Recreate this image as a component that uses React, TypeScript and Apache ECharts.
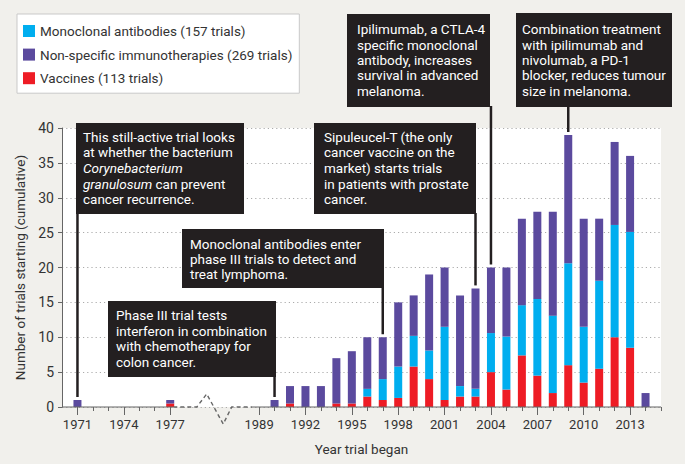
import React, { useEffect, useRef } from "react";
import * as echarts from "echarts";

// ---- data ----
const years = [1971, 1977, 1990, 1991, 1992, 1993, 1994, 1995, 1996, 1997, 1998, 1999, 2000, 2001, 2002, 2003, 2004, 2005, 2006, 2007, 2008, 2009, 2010, 2011, 2012, 2013, 2014];
const vaccines = [null, 0.5, null, 0.5, null, null, 0.5, 0.5, 1.5, 1, 1.3, 5.8, 4, 1, 1.5, 1.5, 5, 2.5, 7.4, 4.5, 2, 6, 3.5, 5.5, 10, 8.5, null];
const monoclonal = [null, null, null, null, null, null, null, null, 1.1, 3, 4.5, 4.4, 4.1, 10.5, 1.5, 1.1, 5.6, 7.6, 7.2, 11, 11.1, 14.6, 8, 12.6, 16.1, 16.6, null];
const nonSpecific = [1, 0.5, 1, 2.5, 3, 3, 6.5, 7.5, 7.4, 6, 9.2, 5.8, 10.9, 8.5, 13, 14.4, 9.4, 9.9, 12.4, 12.5, 14.9, 18.4, 15.5, 8.9, 11.9, 10.9, 2];

const tickYears = [1971, 1972, 1973, 1974, 1975, 1976, 1977, 1989, 1990, 1991, 1992, 1993, 1994, 1995, 1996, 1997, 1998, 1999, 2000, 2001, 2002, 2003, 2004, 2005, 2006, 2007, 2008, 2009, 2010, 2011, 2012, 2013, 2014, 2015];
const labelYears = [1971, 1974, 1977, 1989, 1992, 1995, 1998, 2001, 2004, 2007, 2010, 2013];

const seriesNames = [
  "Monoclonal antibodies (157 trials)",
  "Non-specific immunotherapies (269 trials)",
  "Vaccines (113 trials)",
];

const yTicks = { min: 0, max: 40, interval: 5 };

const notes = [
  { year: 1971, text: "This still-active trial looks\nat whether the bacterium\n{i|Corynebacterium}\n{i|granulosum} can prevent\ncancer recurrence." },
  { year: 1997, text: "Monoclonal antibodies enter\nphase III trials to detect and\ntreat lymphoma." },
  { year: 1990, text: "Phase III trial tests\ninterferon in combination\nwith chemotherapy for\ncolon cancer." },
  { year: 2003, text: "Sipuleucel-T (the only\ncancer vaccine on the\nmarket) starts trials\nin patients with prostate\ncancer." },
  { year: 2004, text: "Ipilimumab, a CTLA-4\nspecific monoclonal\nantibody, increases\nsurvival in advanced\nmelanoma." },
  { year: 2009, text: "Combination treatment\nwith ipilimumab and\nnivolumab, a PD-1\nblocker, reduces tumour\nsize in melanoma." },
];

// ---- layout / style ----
const noteBoxes = [
  { x: 76, y: 123, w: 168, h: 91, tx: 83, ty: 129, lh: 15.6 },
  { x: 182, y: 229, w: 202, h: 59, tx: 190, ty: 236, lh: 15 },
  { x: 108, y: 301, w: 168, h: 76, tx: 116, ty: 307, lh: 15.7 },
  { x: 314, y: 123, w: 162, h: 91, tx: 324, ty: 129, lh: 15.6 },
  { x: 347, y: 14, w: 143, h: 93, tx: 357, ty: 21.5, lh: 15.4 },
  { x: 516, y: 13, w: 156, h: 94, tx: 522, ty: 21.5, lh: 15.4 },
];

const FONT = 'Roboto, "Liberation Sans", Arial, sans-serif';
const DARK = "#231f20";
const TEXT = "#333333";
const AXIS = "#666666";
const BG = "#f1f0ec";
const COLORS = { mono: "#00aeef", non: "#5b4a9e", vac: "#ee1c25" };

// broken axis: 1970-1977, then a compressed gap, then 1989-2015
const BREAK_WIDTH = 5.75;
const pos = (y: number) => (y <= 1977 ? y - 1970 : 7 + BREAK_WIDTH + (y - 1989));
const yearOf = (p: number) => Math.round(p <= 7.01 ? 1970 + p : 1989 + (p - 7 - BREAK_WIDTH));

export default function App() {
  const ref = useRef<HTMLDivElement>(null);

  useEffect(() => {
    const chart = echarts.init(ref.current!, null, { renderer: "svg", width: 685, height: 464 });
    // value first, axis position second (so the value column is the stacked one)
    const toData = (arr: (number | null)[]) => years.map((y, i) => [arr[i], pos(y)]);
    const xMax = pos(2015);
    const barBase = { type: "bar", stack: "total", barWidth: 8, encode: { x: 1, y: 0 } };

    chart.setOption({
      animation: false,
      backgroundColor: BG,
      textStyle: { fontFamily: FONT },
      grid: { left: 62, right: 24, top: 128, bottom: 57, show: true, backgroundColor: "#ffffff", borderWidth: 0 },
      legend: {
        data: seriesNames,
        orient: "vertical",
        left: 17,
        top: 14,
        icon: "rect",
        itemWidth: 12,
        itemHeight: 12,
        itemGap: 9.6,
        padding: [10, 7, 8, 6],
        backgroundColor: "#ffffff",
        borderColor: "#c9c9c9",
        borderWidth: 1,
        selectedMode: false,
        textStyle: { fontFamily: FONT, fontSize: 13.5, color: TEXT, lineHeight: 12 },
      },
      xAxis: [
        {
          type: "value",
          min: 0,
          max: xMax,
          name: "Year trial began",
          nameLocation: "middle",
          nameGap: 35,
          nameTextStyle: { fontFamily: FONT, fontSize: 13.5, color: TEXT },
          axisLine: { show: false },
          splitLine: { show: false },
          axisTick: { show: true, length: 4, customValues: tickYears.map(pos), lineStyle: { color: AXIS } },
          axisLabel: {
            customValues: labelYears.map(pos),
            formatter: (v: number) => String(yearOf(v)),
            margin: 11,
            fontFamily: FONT,
            fontSize: 13,
            color: TEXT,
          },
        },
        {
          type: "value",
          min: 0,
          max: xMax,
          position: "bottom",
          axisLine: { show: false },
          splitLine: { show: false },
          axisLabel: { show: false },
          axisTick: { show: true, length: 8, customValues: labelYears.map(pos), lineStyle: { color: AXIS } },
        },
      ],
      yAxis: {
        type: "value",
        min: yTicks.min,
        max: yTicks.max,
        interval: yTicks.interval,
        name: "Number of trials starting (cumulative)",
        nameLocation: "middle",
        nameGap: 30,
        nameTextStyle: { fontFamily: FONT, fontSize: 13.5, color: TEXT },
        axisLine: { show: true, lineStyle: { color: AXIS, width: 1 } },
        axisTick: { show: true, length: 4, lineStyle: { color: AXIS } },
        axisLabel: { margin: 8, fontFamily: FONT, fontSize: 14, color: TEXT },
        splitLine: { show: true, lineStyle: { color: "#ababab", type: [1.2, 3], width: 1 } },
      },
      series: [
        { ...barBase, name: seriesNames[2], data: toData(vaccines), itemStyle: { color: COLORS.vac } },
        { ...barBase, name: seriesNames[0], data: toData(monoclonal), itemStyle: { color: COLORS.mono } },
        { ...barBase, name: seriesNames[1], data: toData(nonSpecific), itemStyle: { color: COLORS.non } },
      ],
    });

    const px = (p: number) => chart.convertToPixel({ xAxisIndex: 0 }, p) as number;
    const py = (v: number) => chart.convertToPixel({ yAxisIndex: 0 }, v) as number;
    const total = (year: number) => {
      const i = years.indexOf(year);
      return (vaccines[i] || 0) + (monoclonal[i] || 0) + (nonSpecific[i] || 0);
    };
    const y0 = py(0);
    const gx = (off: number) => px(7 + off);

    const axisEls: any[] = [
      { type: "line", z: 50, shape: { x1: px(0), y1: y0, x2: gx(0.2), y2: y0 }, style: { stroke: AXIS, lineWidth: 1.2 } },
      {
        type: "polyline",
        z: 50,
        shape: {
          points: [
            [gx(0.2), y0],
            [gx(1.72), y0],
            [gx(2.36), y0 - 13],
            [gx(3.43), y0 + 17],
            [gx(3.98), y0],
            [gx(5.29), y0],
          ],
        },
        style: { stroke: AXIS, lineWidth: 1.4, lineDash: [4, 3], fill: null },
      },
      { type: "line", z: 50, shape: { x1: gx(5.29), y1: y0, x2: px(xMax), y2: y0 }, style: { stroke: AXIS, lineWidth: 1.2 } },
    ];

    const noteEls: any[] = [];
    notes.forEach((n, k) => {
      const b = noteBoxes[k];
      const lx = px(pos(n.year));
      noteEls.push({ type: "rect", z: 100, shape: { x: b.x, y: b.y, width: b.w, height: b.h }, style: { fill: DARK } });
      noteEls.push({
        type: "line",
        z: 101,
        shape: { x1: lx, y1: b.y + b.h - 1, x2: lx, y2: py(total(n.year)) - 3 },
        style: { stroke: DARK, lineWidth: 2.5 },
      });
      noteEls.push({
        type: "text",
        z: 102,
        x: b.tx,
        y: b.ty,
        style: {
          text: n.text,
          fill: "#ffffff",
          fontFamily: FONT,
          fontSize: 13.5,
          lineHeight: b.lh,
          verticalAlign: "top",
          align: "left",
          rich: { i: { fontStyle: "italic", fill: "#ffffff", fontFamily: FONT, fontSize: 13.5, lineHeight: b.lh } },
        },
      });
    });

    chart.setOption({ graphic: [...axisEls, ...noteEls] });

    return () => chart.dispose();
  }, []);

  return (
    <div
      ref={ref}
      style={{ position: "absolute", left: 0, top: 0, width: 685, height: 464, background: BG }}
    />
  );
}
